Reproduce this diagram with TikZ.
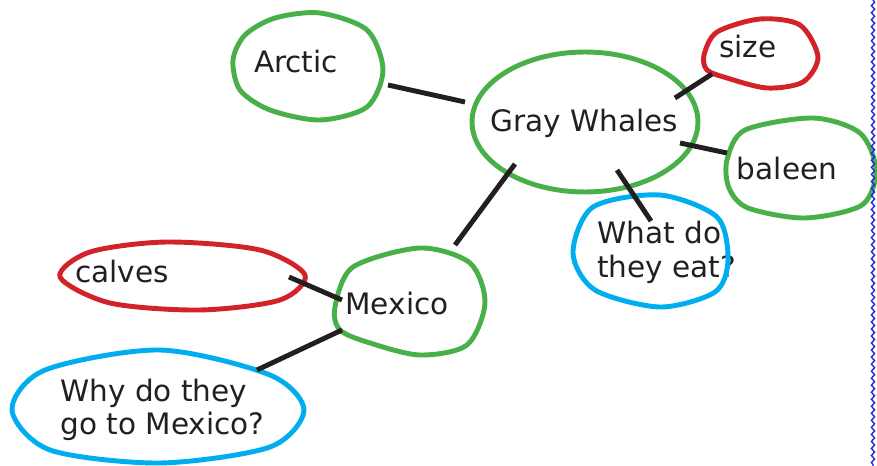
\documentclass[tikz,border=0pt]{standalone}
\usepackage{fontspec}
\setmainfont{DejaVu Sans}
\usetikzlibrary{calc,decorations.pathmorphing}
\definecolor{blobgreen}{RGB}{72,175,73}
\definecolor{blobred}{RGB}{210,35,42}
\definecolor{blobblue}{RGB}{0,174,239}
\definecolor{inkblack}{RGB}{35,31,32}
\definecolor{wavyblue}{RGB}{40,40,225}

\begin{document}
\begin{tikzpicture}[x=0.02cm,y=-0.02cm,
    blob/.style={line width=2.8pt},
    txt/.style={inner sep=0pt,font=\fontsize{16.8}{19}\selectfont,text=inkblack},
    link/.style={line width=2.8pt,draw=inkblack}]
      \useasboundingbox (0,0) rectangle (877,466);

      % text of the bubbles
      \node [txt,anchor=base] (arctic) at (296,73) {Arctic};
      \node [txt,anchor=base] (whales) at (584,132) {Gray Whales};
      \node [txt,anchor=base] (size) at (748,58) {size};
      \node [txt,anchor=base] (baleen) at (787,180) {baleen};
      \node [txt,anchor=base west,align=left] (eat) at (597,277) {What do\\they eat?};
      \node [txt,anchor=base] (mexico) at (397,315) {Mexico};
      \node [txt,anchor=base west] (calves) at (75,283) {calves};
      \node [txt,anchor=base west,align=left] (why) at (60,435) {Why do they\\go to Mexico?};

      % the bubbles
      \draw [blob,draw=blobgreen] plot [smooth cycle] coordinates
            {(233,60) (245,35) (275,18) (320,13) (367,30) (383,70) (367,107) (320,120) (270,110) (240,90)};
      \draw [blob,draw=blobgreen] (585,122) ellipse [x radius=2.26cm, y radius=1.4cm];
      \draw [blob,draw=blobred] plot [smooth cycle] coordinates
            {(704,55) (717,32) (760,19) (800,25) (818,57) (803,82) (767,88) (727,78) (707,70)};
      \draw [blob,draw=blobgreen] plot [smooth cycle] coordinates
            {(727,160) (745,130) (813,118) (860,133) (876,170) (862,205) (805,218) (748,208) (729,188)};
      \draw [blob,draw=blobblue] plot [smooth cycle] coordinates
            {(573,253) (593,207) (660,195) (717,217) (728,260) (715,292) (660,307) (595,290)};
      \draw [blob,draw=blobgreen] plot [smooth cycle] coordinates
            {(335,307) (353,267) (420,248) (470,263) (485,303) (467,345) (420,355) (370,343) (340,330)};
      \draw [blob,draw=blobred] plot [smooth cycle] coordinates
            {(60,277) (90,252) (167,242) (260,250) (305,275) (280,300) (200,310) (110,303)};
      \draw [blob,draw=blobblue] plot [smooth cycle] coordinates
            {(12,410) (45,370) (160,350) (270,375) (304,410) (270,447) (160,463) (50,450)};

      % ends of the links
      \coordinate (arctic-e) at (388,85);
      \coordinate (whales-w) at (465,102);
      \coordinate (whales-ne) at (675,98);
      \coordinate (size-sw) at (712,74);
      \coordinate (whales-e) at (680,143);
      \coordinate (baleen-w) at (727,153);
      \coordinate (whales-s) at (617,170);
      \coordinate (eat-n) at (651,221);
      \coordinate (whales-sw) at (515,164);
      \coordinate (mexico-n) at (455,245);
      \coordinate (calves-e) at (289,277);
      \coordinate (mexico-w) at (342,300);
      \coordinate (mexico-sw) at (342,330);
      \coordinate (why-ne) at (257,370);

      \draw [link] (arctic-e) -- (whales-w);
      \draw [link] (whales-ne) -- (size-sw);
      \draw [link] (whales-e) -- (baleen-w);
      \draw [link] (whales-s) -- (eat-n);
      \draw [link] (whales-sw) -- (mexico-n);
      \draw [link] (calves-e) -- (mexico-w);
      \draw [link] (mexico-sw) -- (why-ne);

      % margin line
      \coordinate (margin-top) at (873,0);
      \coordinate (margin-bot) at (873,466);
      \draw [draw=wavyblue,line width=0.8pt,decorate,
             decoration={snake,amplitude=0.9pt,segment length=4pt}] (margin-top) -- (margin-bot);
\end{tikzpicture}
\end{document}
